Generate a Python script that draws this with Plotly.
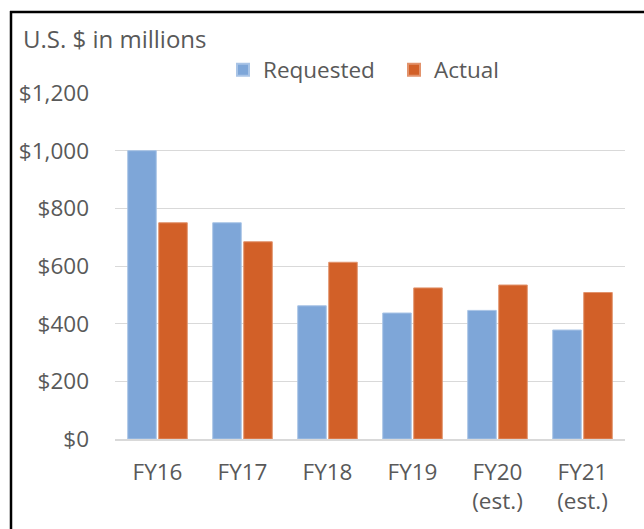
import plotly.graph_objects as go

categories = ["FY16", "FY17", "FY18", "FY19", "FY20<br>(est.)", "FY21<br>(est.)"]
requested = [1000, 750, 462, 437, 446, 378]
actual = [750, 684, 613, 524, 534, 508]
tick_vals = [0, 200, 400, 600, 800, 1000, 1200]
tick_text = ["$0", "$200", "$400", "$600", "$800", "$1,000", "$1,200"]

BLUE = "#7EA6D8"
ORANGE = "#D26028"
GREY_TXT = "#595959"
FONT = "Open Sans"
FS = 22.5

fig = go.Figure()
fig.add_trace(go.Bar(name="Requested", x=categories, y=requested,
                     marker=dict(color=BLUE, line=dict(color="#A9C4E6", width=1))))
fig.add_trace(go.Bar(name="Actual", x=categories, y=actual,
                     marker=dict(color=ORANGE, line=dict(color="#E2936C", width=1))))

L, T, R, B = 115, 93, 19, 90
W, H = 644, 529
pw, ph = W - L - R, H - T - B

def px_x(px):
    return (px - L) / pw

def px_y(py):
    return 1 + (T - py) / ph

fig.update_layout(
    width=W, height=H, autosize=False,
    margin=dict(l=L, r=R, t=T, b=B, pad=0),
    paper_bgcolor="white", plot_bgcolor="white",
    barmode="group", bargap=0.27, bargroupgap=0.08,
    font=dict(family=FONT, size=FS, color=GREY_TXT),
    showlegend=True,
    legend=dict(orientation="h", x=px_x(223), xanchor="left", y=px_y(70), yanchor="middle",
                font=dict(family=FONT, size=FS, color=GREY_TXT), bgcolor="rgba(0,0,0,0)",
                itemsizing="constant", traceorder="normal", itemwidth=30,
                entrywidth=126, entrywidthmode="pixels"),
    xaxis=dict(showgrid=False, showline=True, linecolor="#D9D9D9", linewidth=1.5,
               ticks="", tickfont=dict(family=FONT, size=FS, color=GREY_TXT),
               ticklabelstandoff=12, fixedrange=True),
    yaxis=dict(range=[0, 1200], tickvals=tick_vals, ticktext=tick_text,
               showgrid=True, gridcolor="#D9D9D9", gridwidth=1, zeroline=False,
               showline=False, ticks="", ticklabelstandoff=25,
               tickfont=dict(family=FONT, size=FS, color=GREY_TXT), fixedrange=True),
    annotations=[dict(text="U.S. $ in millions", xref="paper", yref="paper",
                      x=px_x(21), y=px_y(39), xanchor="left", yanchor="middle",
                      showarrow=False, font=dict(family=FONT, size=24, color=GREY_TXT))],
    shapes=[
        dict(type="line", xref="paper", yref="paper", x0=px_x(11), x1=px_x(11),
             y0=px_y(11), y1=px_y(560), line=dict(color="black", width=2.5)),
        dict(type="line", xref="paper", yref="paper", x0=px_x(10), x1=px_x(700),
             y0=px_y(12), y1=px_y(12), line=dict(color="black", width=2.5)),
    ],
)

fig.write_html("out.html", config={"displayModeBar": False},
               post_script="document.body.style.margin='0';")
